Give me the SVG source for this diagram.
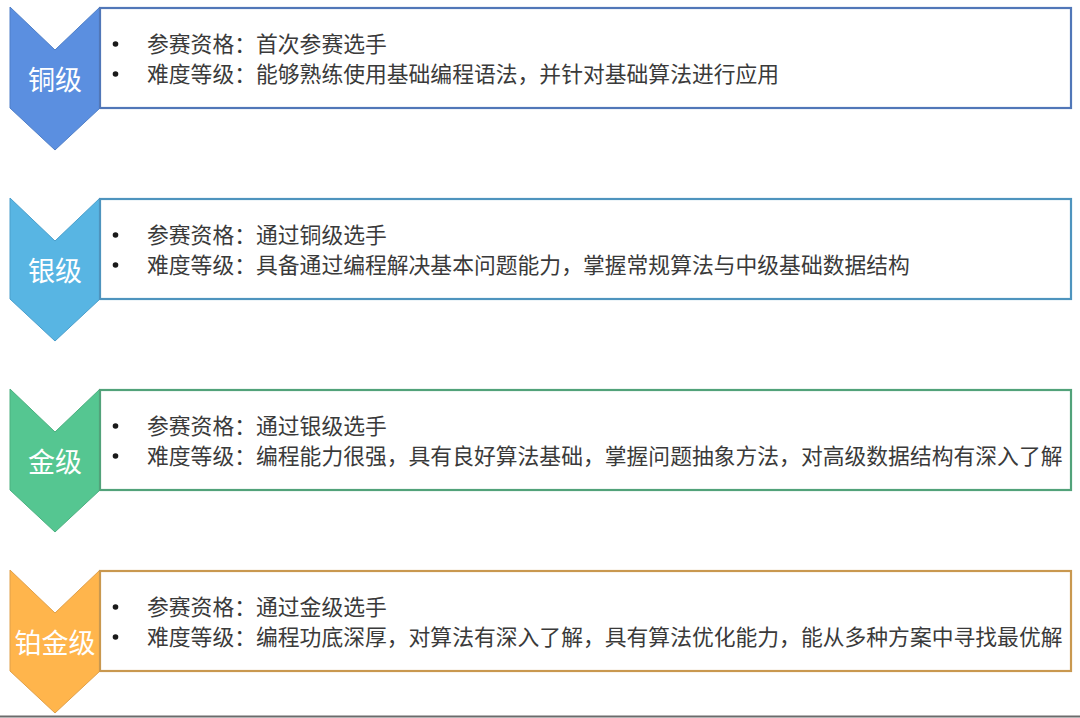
<svg xmlns="http://www.w3.org/2000/svg" width="1080" height="718" viewBox="0 0 1080 718">
<style>
.txt{font-family:"Noto Sans CJK SC","Microsoft YaHei",sans-serif;font-size:21.8px;fill:#3a3a3a}
.lbl{font-family:"Noto Sans CJK SC","Microsoft YaHei",sans-serif;font-size:27px;fill:#ffffff;text-anchor:middle}
.box{fill:#ffffff;stroke-width:2.2}
.chev{stroke-width:1}
.dot{fill:#1a1a1a}
</style>
<defs>
<polygon id="chev" points="10,7 55,50 100,7 100,108 55,150 10,108"/>
</defs>
<rect width="1080" height="718" fill="#ffffff"/>
<g id="row-bronze">
<use href="#chev" class="chev" fill="#5B8FE0" stroke="#4f7fc8"/>
<rect class="box" x="100" y="8" width="971" height="100" stroke="#5177B8"/>
<text class="lbl" x="55" y="90">铜级</text>
<circle class="dot" cx="115.5" cy="44" r="2.8"/>
<text class="txt" x="147" y="52">参赛资格：首次参赛选手</text>
<circle class="dot" cx="115.5" cy="74" r="2.8"/>
<text class="txt" x="147" y="82">难度等级：能够熟练使用基础编程语法，并针对基础算法进行应用</text>
</g>
<g id="row-silver" transform="translate(0,191)">
<use href="#chev" class="chev" fill="#58B5E3" stroke="#4a9fcc"/>
<rect class="box" x="100" y="8" width="971" height="100" stroke="#4E94BE"/>
<text class="lbl" x="55" y="90">银级</text>
<circle class="dot" cx="115.5" cy="44" r="2.8"/>
<text class="txt" x="147" y="52">参赛资格：通过铜级选手</text>
<circle class="dot" cx="115.5" cy="74" r="2.8"/>
<text class="txt" x="147" y="82">难度等级：具备通过编程解决基本问题能力，掌握常规算法与中级基础数据结构</text>
</g>
<g id="row-gold" transform="translate(0,382)">
<use href="#chev" class="chev" fill="#55C691" stroke="#4cb080"/>
<rect class="box" x="100" y="8" width="971" height="100" stroke="#52A27A"/>
<text class="lbl" x="55" y="90">金级</text>
<circle class="dot" cx="115.5" cy="44" r="2.8"/>
<text class="txt" x="147" y="52">参赛资格：通过银级选手</text>
<circle class="dot" cx="115.5" cy="74" r="2.8"/>
<text class="txt" x="147" y="82">难度等级：编程能力很强，具有良好算法基础，掌握问题抽象方法，对高级数据结构有深入了解</text>
</g>
<g id="row-platinum" transform="translate(0,563)">
<use href="#chev" class="chev" fill="#FFB54C" stroke="#e0a04a"/>
<rect class="box" x="100" y="8" width="971" height="100" stroke="#C9984F"/>
<text class="lbl" x="55" y="90">铂金级</text>
<circle class="dot" cx="115.5" cy="44" r="2.8"/>
<text class="txt" x="147" y="52">参赛资格：通过金级选手</text>
<circle class="dot" cx="115.5" cy="74" r="2.8"/>
<text class="txt" x="147" y="82">难度等级：编程功底深厚，对算法有深入了解，具有算法优化能力，能从多种方案中寻找最优解</text>
</g>
<g id="connectors"></g>
<line x1="0" y1="716.5" x2="1080" y2="716.5" stroke="#6b6b6b" stroke-width="2"/>
</svg>
